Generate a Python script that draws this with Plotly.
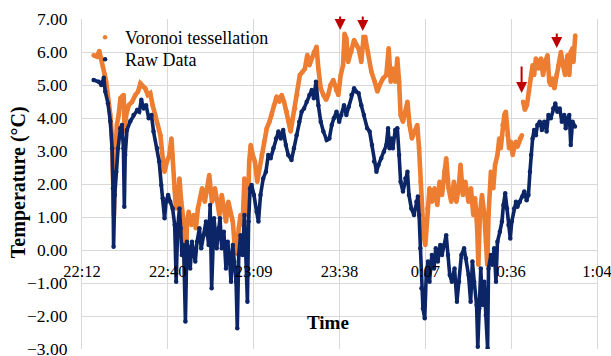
import plotly.graph_objects as go

# ---- Data (minutes after 22:12, temperature in °C) ----
tick_minutes = [0, 28.8, 57.6, 86.4, 115.2, 144.0, 172.8]
tick_labels = ["22:12", "22:40", "23:09", "23:38", "0:07", "0:36", "1:04"]

raw_minutes = [3.9, 5.6, 6.5, 7.3, 7.8, 8.7, 9.5, 10.1, 10.4, 10.6, 11.0, 11.5, 12.1, 12.9, 13.4, 13.9, 14.2, 14.5,
               15.1, 16.2, 17.3, 18.5, 19.2, 19.9, 20.7, 21.5, 22.4, 23.3, 24.0, 25.2, 25.9, 26.6, 27.1, 27.7, 28.2,
               28.9, 29.6, 30.4, 31.1, 31.6, 32.1, 32.7, 33.1, 33.5, 34.1, 34.7, 35.2, 35.8, 36.3, 36.9, 38.0, 38.6,
               39.4, 40.0, 40.8, 41.6, 42.5, 43.0, 43.5, 44.3, 45.2, 45.8, 46.3, 46.9, 47.6, 48.3, 48.9, 49.4, 50.0,
               50.6, 51.1, 51.7, 52.1, 52.6, 53.2, 53.9, 54.5, 55.0, 55.5, 55.9, 56.4, 56.9, 57.7, 58.6, 59.2, 59.9,
               60.8, 61.7, 62.5, 63.3, 64.2, 65.1, 65.9, 66.7, 67.5, 68.4, 69.2, 70.3, 71.1, 72.0, 72.9, 73.7, 74.5,
               75.4, 76.3, 77.1, 77.8, 78.5, 79.3, 80.1, 81.0, 82.1, 83.0, 83.8, 84.5, 85.4, 86.3, 87.0, 87.9, 88.7,
               89.5, 90.4, 91.3, 92.0, 92.8, 93.7, 94.6, 95.7, 96.5, 97.3, 98.0, 98.8, 99.5, 100.4, 101.3, 102.1,
               102.7, 103.2, 103.8, 104.3, 105.1, 105.8, 106.4, 106.9, 107.7, 108.5, 109.2, 109.7, 110.5, 111.4,
               112.2, 112.7, 113.1, 113.5, 113.9, 114.4, 115.0, 115.5, 116.1, 116.6, 117.4, 118.1, 118.7, 119.4,
               120.2, 120.8, 121.5, 122.2, 122.8, 123.4, 124.1, 125.0, 125.8, 126.5, 127.3, 128.2, 128.8, 129.7,
               130.4, 131.0, 131.6, 132.4, 132.8, 133.3, 133.8, 134.4, 135.0, 135.5, 136.1, 136.4, 137.2, 137.7,
               138.3, 138.9, 139.4, 140.2, 140.9, 141.4, 142.0, 142.6, 143.1, 143.7, 144.2, 145.0, 145.6, 146.1,
               146.9, 147.8, 148.4, 149.2, 149.8, 150.3, 150.7, 151.2, 151.7, 152.3, 152.8, 153.6, 154.3, 155.1,
               155.9, 156.5, 157.3, 158.1, 158.8, 159.5, 160.3, 161.0, 161.8, 162.3, 162.9, 163.5, 164.0, 164.6,
               165.4]
raw_temp = [5.15, 5.10, 5.00, 5.22, 4.80, 4.45, 3.90, 3.08, 1.87, 0.10, 1.67, 2.37, 3.08, 3.69, 3.79, 3.08, 1.31, 2.88,
            3.64, 3.90, 4.09, 4.24, 4.19, 4.55, 4.29, 4.39, 3.99, 4.09, 3.59, 3.08, 2.68, 1.97, 1.57, 0.96, 1.46,
            1.67, 1.46, 1.26, 0.76, -0.96, 0.66, 1.26, 0.66, -0.15, 0.15, -2.17, 0.25, 0.05, -0.56, 0.25, -0.35, 0.25,
            0.66, 0.05, 0.45, 0.86, 0.15, 1.36, -1.16, 0.96, 0.05, 0.66, 0.96, 0.05, 0.55, -0.56, 0.25, -0.15, -0.96,
            0.15, -0.35, -0.96, -2.37, -0.15, 0.45, -0.15, 1.06, 0.05, -1.57, 0.86, 1.87, 1.97, 1.67, 1.16, 0.86, 1.67,
            2.17, 2.37, 2.88, 2.78, 3.08, 3.38, 3.59, 3.38, 3.64, 3.18, 2.88, 2.73, 3.08, 3.48, 3.89, 4.19, 4.29,
            4.49, 4.70, 4.85, 4.60, 5.10, 4.39, 3.89, 3.59, 3.33, 3.38, 3.79, 3.99, 4.19, 3.89, 4.09, 4.39, 4.09,
            4.34, 4.70, 4.90, 4.80, 4.75, 4.39, 4.09, 3.69, 3.59, 3.18, 2.68, 2.37, 2.58, 2.78, 2.98, 3.18,
            3.69, 3.08, 3.38, 3.08, 3.64, 3.69, 2.88, 2.07, 1.77, 2.17, 2.37, 1.67, 1.26, 1.06,
            1.46, 1.62, 1.06, 0.05, -1.16, -1.77, -2.07, -0.76, -0.35, -0.96, -0.15, -0.56, 0.05, -0.35,
            0.15, -0.15, 0.15, 0.45, -0.15, -0.76, -0.96, -0.56, -1.57, -0.96, -0.15, 0.05, -0.25, -0.76,
            -1.57, -0.35, -0.96, -1.67, -2.93, -1.77, -0.56, -1.67, -0.96, -1.97, -2.98, -0.56, -0.15, -0.45,
            0.05, -0.96, 0.25, 0.55, 0.86, 1.36, 1.72, 1.26, 0.76, 0.35, 0.86, 1.26, 1.46, 1.31,
            1.46, 1.62, 1.77, 1.51, 1.67, 2.37, 2.88, 3.38, 3.64, 3.48, 3.79, 3.89, 3.64, 3.89,
            3.59, 4.09, 3.99, 4.29, 4.44, 4.19, 4.29, 3.89, 4.09, 3.69, 3.99, 4.09, 3.18, 3.89,
            3.74]

vor_minutes = [3.9, 5.0, 5.8, 6.5, 7.0, 7.6, 8.1, 8.7, 9.5, 10.1, 10.4, 10.7, 11.2, 11.7, 12.3, 12.9, 13.4, 14.0, 14.3,
               14.8, 15.7, 16.8, 17.9, 18.8, 19.6, 20.4, 21.2, 22.1, 22.9, 23.7, 24.6, 25.5, 26.3, 27.1, 27.7, 28.5,
               29.3, 30.0, 30.4, 31.1, 31.5, 32.2, 32.7, 33.3, 34.1, 34.7, 35.2, 35.8, 36.7, 37.5, 38.2, 38.9, 39.7,
               40.3, 41.2, 41.9, 42.7, 43.6, 44.6, 45.4, 46.1, 46.9, 47.6, 48.3, 49.1, 49.9, 50.6, 51.3, 51.9, 52.6,
               53.2, 53.9, 54.5, 55.0, 55.6, 56.1, 56.6, 57.3, 58.0, 58.8, 59.5, 60.3, 61.1, 62.0, 62.9, 63.6, 64.4,
               65.3, 66.2, 67.0, 67.8, 68.7, 69.3, 70.0, 70.7, 71.5, 72.2, 73.1, 74.0, 74.8, 75.6, 76.3, 77.1, 77.8,
               78.7, 79.3, 80.1, 81.0, 81.9, 82.6, 83.4, 84.3, 85.2, 86.0, 86.8, 87.6, 88.1, 88.7, 89.3, 90.4, 91.3,
               92.1, 92.8, 93.7, 94.5, 95.0, 96.0, 97.1, 98.2, 99.1, 99.9, 101.0, 102.1, 102.9, 103.6, 104.3, 105.1,
               105.8, 106.4, 106.9, 107.7, 108.5, 109.2, 109.9, 110.7, 111.6, 112.5, 113.1, 113.6, 114.1, 114.6,
               115.2, 115.9, 116.6, 117.4, 118.3, 119.2, 120.0, 120.8, 121.5, 122.2, 123.0, 123.9, 124.8, 125.6,
               126.4, 127.0, 127.8, 128.6, 129.7, 130.5, 131.3, 131.9, 132.6, 133.0, 133.5, 134.2, 135.0, 135.5,
               136.0, 136.4, 137.2, 138.0, 138.6, 139.4, 140.0, 140.5, 141.1, 141.7, 142.2, 142.8, 143.3, 143.9,
               144.5, 145.0, 145.6, 146.1, 146.9, 147.6, 147.8, 148.0, 148.6, 149.3, 150.0, 150.6, 151.2, 151.7,
               152.3, 153.2, 154.0, 154.7, 155.4, 156.2, 156.8, 157.3, 157.9, 158.5, 159.2, 159.9, 160.7, 161.4,
               162.1, 162.9, 163.5, 164.0, 164.6, 164.9, 165.5]
vor_temp = [5.90, 5.86, 6.03, 5.80, 5.55, 5.32, 5.10, 4.70, 4.09, 3.38, 2.58, 1.06, 2.88, 3.79, 4.09, 4.60, 4.65, 4.70, 3.59,
            4.09, 4.39, 4.49, 4.70, 4.80, 5.05, 4.95, 4.90, 4.70, 4.75, 4.39, 4.09, 3.79, 3.48, 2.78, 2.37, 2.68,
            2.88, 3.38, 2.88, 1.87, 1.26, 1.46, 2.17, 1.46, 0.86, -1.06, 0.76, 1.16, 0.76, 1.06, 0.66, 1.26, 1.57,
            1.87, 1.46, 1.87, 2.27, 1.46, 1.87, 1.46, 1.06, 1.67, 1.26, 0.86, 1.46, 1.06, 0.86, 0.05, -0.10, 0.66,
            1.06, 0.76, 2.17, 1.67, 1.06, 2.68, 3.18, 2.88, 2.68, 2.07, 2.47, 2.88, 3.28, 3.69, 3.89, 4.09, 4.39,
            4.65, 4.49, 4.70, 4.49, 4.19, 3.89, 3.59, 3.99, 4.29, 4.70, 5.30, 5.40, 5.50, 5.91, 5.60, 5.80, 6.00,
            6.16, 5.50, 4.90, 4.70, 4.55, 4.70, 5.00, 5.15, 4.85, 4.70, 5.30, 5.60, 6.55, 6.41, 5.70, 6.01, 6.36,
            6.21, 6.11, 5.70, 6.45, 6.45, 6.00, 5.40, 5.10, 4.80, 5.00, 5.20, 5.30, 6.11, 5.10, 5.50, 5.10,
            5.80, 5.10, 4.09, 3.89, 4.19, 4.49, 3.79, 3.38, 3.59, 3.79, 3.08, 2.07, 1.06, 0.45,
            0.15, 1.26, 1.87, 1.46, 1.87, 1.36, 2.07, 1.67, 2.37, 2.78, 1.87, 1.46, 2.07, 1.46,
            1.87, 2.58, 1.67, 2.07, 1.46, 1.87, 1.06, 1.57, 0.66, -0.45, 1.06, 1.67, 1.06, 0.25,
            -0.45, 1.06, 2.37, 1.87, 2.58, 2.88, 3.38, 3.08, 3.79, 4.09, 4.19, 3.48, 3.08, 3.28,
            2.88, 3.08, 3.28, 3.13, 3.38, 3.48, None, 4.49, 4.25, 4.40, 4.80, 5.20, 5.60, 5.30,
            5.80, 5.50, 5.80, 5.30, 5.70, 5.90, 5.10, 5.00, 5.20, 4.90, 5.30, 5.60, 6.00, 5.60,
            5.30, 5.90, 5.30, 6.00, 6.11, 5.70, 6.50]

# arrows: (minute, temperature at tip, arrow length in px)
arrow_minutes = [86.6, 94.2, 147.5, 159.3]
arrow_temps = [6.67, 6.64, 4.76, 6.12]
arrow_lengths = [15, 16, 28, 16]

ORANGE = "#ED7D31"
NAVY = "#0B2566"
GRID = "#D9D9D9"
SERIF = "Liberation Serif"

fig = go.Figure()
series = [("Voronoi tessellation", vor_minutes, vor_temp, ORANGE, 4.6, "legend"),
          ("Raw Data", raw_minutes, raw_temp, NAVY, 3.6, "legend2")]
for name, xs, ys, col, lw, leg in series:
    fig.add_trace(go.Scatter(x=xs, y=ys, mode="lines", line=dict(color=col, width=lw),
                             showlegend=False, hoverinfo="skip", connectgaps=False))
    fig.add_trace(go.Scatter(x=xs, y=ys, mode="markers", name=name, legend=leg,
                             marker=dict(color=col, size=4.5)))

for xm, yt, ln in zip(arrow_minutes, arrow_temps, arrow_lengths):
    fig.add_annotation(x=xm, y=yt, xref="x", yref="y", ax=0, ay=-ln, text="",
                       showarrow=True, arrowhead=2, arrowsize=1.1, arrowwidth=2,
                       arrowcolor="#C00000")

fig.add_annotation(text="<b>Time</b>", x=0.478, y=0.079, xref="paper", yref="paper",
                   xanchor="center", yanchor="middle",
                   showarrow=False, font=dict(family=SERIF, size=19, color="black"))
fig.add_annotation(text="<b>Temperature (°C)</b>", x=-0.124, y=0.506, xref="paper", yref="paper",
                   xanchor="center", yanchor="middle",
                   textangle=-90, showarrow=False, font=dict(family=SERIF, size=20, color="black"))

legend_style = dict(xanchor="left", yanchor="top", bgcolor="rgba(0,0,0,0)",
                    font=dict(family=SERIF, size=18, color="black"))

fig.update_layout(
    width=611, height=356,
    margin=dict(l=82, r=14, t=19, b=7, autoexpand=False),
    paper_bgcolor="white", plot_bgcolor="white",
    font=dict(family=SERIF, color="black"),
    legend=dict(x=0.006, y=1.0, **legend_style),
    legend2=dict(x=0.006, y=0.933, **legend_style),
    xaxis=dict(range=[0, 172.8], tickvals=tick_minutes, ticktext=tick_labels,
               showgrid=True, gridcolor=GRID, gridwidth=1, zeroline=False,
               anchor="free", position=0.3, showline=False, automargin=False,
               ticks="outside", ticklen=6, tickcolor="rgba(0,0,0,0)",
               ticklabeloverflow="allow",
               tickfont=dict(family=SERIF, size=16.5, color="black")),
    yaxis=dict(range=[-3, 7], dtick=1, tick0=0, tickformat=".2f",
               showgrid=True, gridcolor=GRID, gridwidth=1,
               zeroline=True, zerolinecolor=GRID, zerolinewidth=1,
               showline=True, mirror=True, linecolor=GRID, linewidth=1, automargin=False,
               ticks="outside", ticklen=10, tickcolor="rgba(0,0,0,0)",
               ticklabeloverflow="allow",
               tickfont=dict(family=SERIF, size=17.5, color="black")),
)

fig.write_html("out.html")
